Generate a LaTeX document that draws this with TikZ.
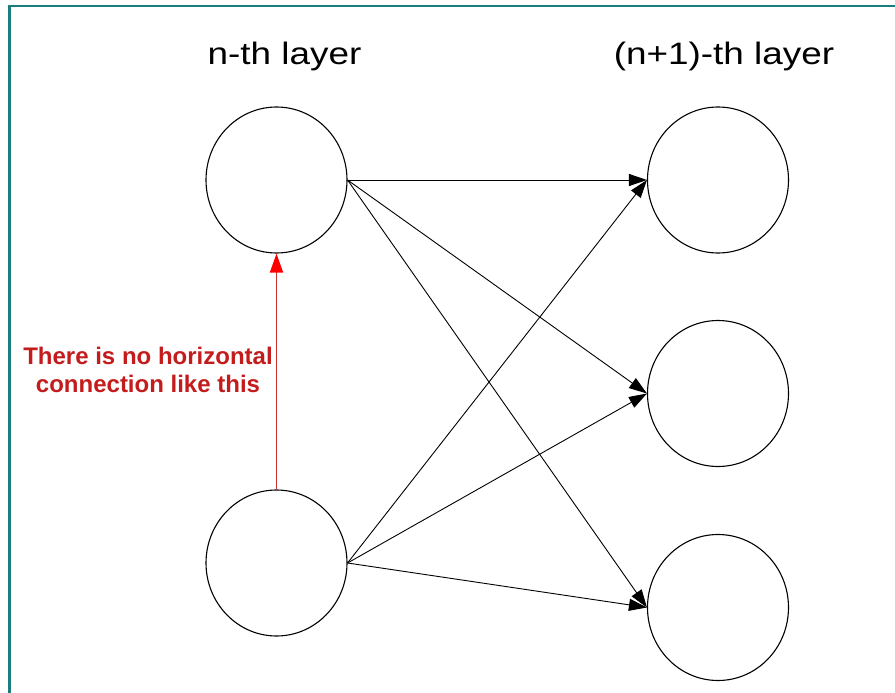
\documentclass[tikz,border=0pt]{standalone}
\usepackage{fontspec}
\setmainfont{Liberation Sans}
\usetikzlibrary{arrows.meta,shapes.geometric}
\definecolor{frameteal}{RGB}{27,125,125}
\definecolor{notered}{RGB}{196,28,28}
\definecolor{linered}{RGB}{200,50,50}
\begin{document}
\begin{tikzpicture}[x=1pt,y=-1pt,
  neuron/.style={draw=black,line width=1.1pt,ellipse,minimum width=141pt,minimum height=146pt,inner sep=0pt},
  link/.style={draw=black,line width=0.9pt,-{Triangle[length=18pt,width=12pt]}},
  nolink/.style={draw=linered,line width=1.7pt,-{Triangle[length=19pt,width=13pt,color=red]}},
  layertitle/.style={anchor=base,inner sep=0pt,font=\fontsize{31}{36}\selectfont},
  remark/.style={align=center,inner sep=0pt,text=notered,font=\bfseries\fontsize{24}{28}\selectfont}]
  \useasboundingbox (0,0) rectangle (895,693);
  % frame: top and left edges only
  \draw[frameteal,line width=2.5pt] (9.3,693) -- (9.3,6) -- (895,6);

  % layer titles
  \node[layertitle] (t1) at (284.5,65) {\scalebox{1.19}[1]{n-th layer}};
  \node[layertitle] (t2) at (724,65) {\scalebox{1.19}[1]{(n+1)-th layer}};

  % n-th layer
  \node[neuron] (a1) at (276.5,180) {};
  \node[neuron] (a2) at (276.5,563) {};
  % (n+1)-th layer
  \node[neuron] (b1) at (718,180) {};
  \node[neuron] (b2) at (718,393.5) {};
  \node[neuron] (b3) at (718,607.5) {};

  % feed-forward connections
  \foreach \s in {a1,a2}
    \foreach \t in {b1,b2,b3}
      \draw[link] (\s.east) -- (\t.west);

  % forbidden connection inside a layer
  \draw[nolink] (a2.north) -- (a1.south);
  \node[remark] (r) at (148,370) {There is no horizontal\\connection like this};
\end{tikzpicture}
\end{document}
